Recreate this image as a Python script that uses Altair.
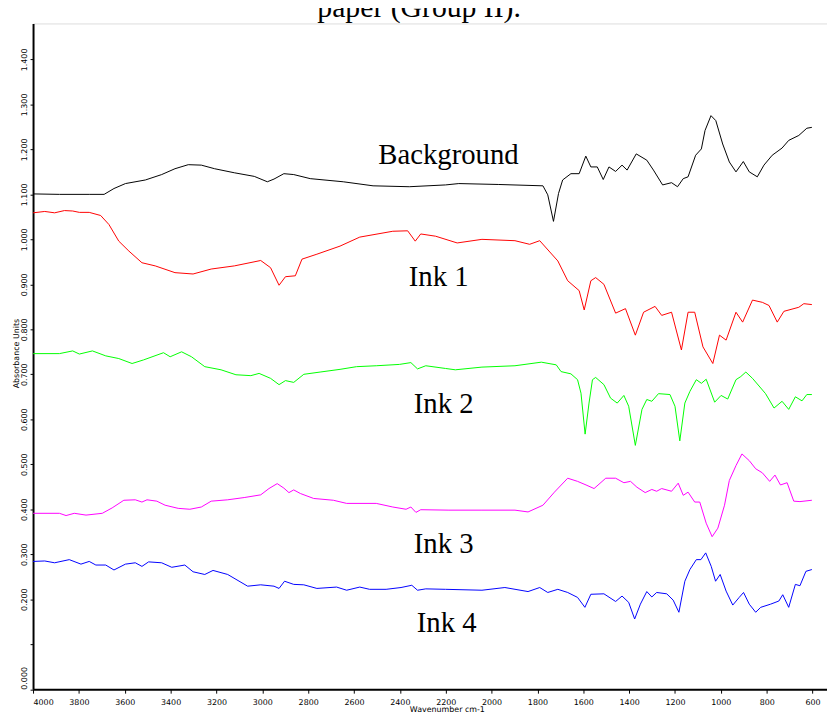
import altair as alt
import pandas as pd

# ---------------- data ----------------
series_names = ["Background", "Ink 1", "Ink 2", "Ink 3", "Ink 4"]
series_colors = ["#000000", "#ff0000", "#00ff00", "#ff00ff", "#0000ff"]

bg_wn = [4000, 3885, 3755, 3690, 3647, 3597, 3510, 3439, 3381, 3323,
         3266, 3208, 3122, 3035, 2978, 2949, 2906, 2863, 2791, 2647,
         2517, 2359, 2201, 2143, 1971, 1776, 1755, 1730, 1708, 1690,
         1654, 1618, 1589, 1567, 1539, 1513, 1488, 1459, 1431, 1409,
         1369, 1323, 1294, 1254, 1215, 1189, 1164, 1143, 1110, 1085,
         1069, 1043, 1022, 992, 963, 934, 902, 876, 841, 812,
         776, 733, 704, 660, 625, 603]
bg_abs = [1.101, 1.100, 1.100, 1.100, 1.113, 1.124, 1.132, 1.144, 1.157, 1.166,
          1.165, 1.157, 1.148, 1.140, 1.128, 1.134, 1.146, 1.144, 1.135, 1.128,
          1.119, 1.117, 1.121, 1.124, 1.122, 1.119, 1.099, 1.040, 1.102, 1.132,
          1.146, 1.146, 1.185, 1.161, 1.161, 1.133, 1.161, 1.151, 1.165, 1.154,
          1.190, 1.176, 1.154, 1.121, 1.126, 1.117, 1.135, 1.139, 1.187, 1.201,
          1.242, 1.275, 1.264, 1.212, 1.172, 1.150, 1.173, 1.150, 1.139, 1.165,
          1.187, 1.203, 1.220, 1.231, 1.247, 1.249]

ink1_wn = [4000, 3949, 3906, 3863, 3827, 3798, 3755, 3705, 3669, 3626,
           3582, 3525, 3467, 3381, 3302, 3223, 3122, 3007, 2964, 2927,
           2899, 2856, 2827, 2762, 2661, 2575, 2431, 2366, 2333, 2309,
           2244, 2150, 2042, 1898, 1834, 1790, 1711, 1668, 1618, 1596,
           1567, 1546, 1510, 1459, 1416, 1373, 1337, 1287, 1258, 1215,
           1172, 1143, 1114, 1078, 1035, 1006, 977, 934, 905, 862,
           819, 790, 754, 725, 660, 638, 603]
ink1_abs = [1.059, 1.062, 1.059, 1.064, 1.063, 1.060, 1.060, 1.053, 1.033, 0.996,
            0.974, 0.948, 0.941, 0.926, 0.923, 0.934, 0.941, 0.953, 0.937, 0.898,
            0.917, 0.919, 0.956, 0.967, 0.985, 1.005, 1.018, 1.019, 0.996, 1.012,
            1.007, 0.992, 1.000, 0.997, 0.989, 0.997, 0.952, 0.908, 0.886, 0.843,
            0.908, 0.915, 0.900, 0.836, 0.846, 0.787, 0.838, 0.851, 0.831, 0.838,
            0.754, 0.838, 0.838, 0.761, 0.724, 0.787, 0.776, 0.838, 0.816, 0.865,
            0.860, 0.853, 0.816, 0.840, 0.849, 0.857, 0.855]

ink2_wn = [4000, 3885, 3827, 3798, 3741, 3683, 3626, 3568, 3518, 3431,
           3402, 3352, 3309, 3251, 3180, 3115, 3050, 3014, 2964, 2927,
           2899, 2863, 2819, 2748, 2661, 2589, 2503, 2402, 2352, 2323,
           2287, 2201, 2158, 2042, 1898, 1783, 1718, 1697, 1654, 1625,
           1610, 1592, 1575, 1560, 1546, 1510, 1481, 1452, 1423, 1402,
           1373, 1344, 1323, 1301, 1272, 1222, 1200, 1179, 1157, 1135,
           1107, 1085, 1064, 1027, 999, 970, 934, 913, 891, 862,
           805, 768, 733, 704, 675, 646, 625, 603]
ink2_abs = [0.746, 0.746, 0.752, 0.745, 0.752, 0.741, 0.735, 0.724, 0.732, 0.748,
            0.739, 0.750, 0.739, 0.717, 0.710, 0.699, 0.697, 0.702, 0.691, 0.677,
            0.686, 0.682, 0.700, 0.705, 0.711, 0.717, 0.719, 0.722, 0.726, 0.712,
            0.719, 0.713, 0.710, 0.716, 0.719, 0.727, 0.721, 0.706, 0.701, 0.688,
            0.658, 0.567, 0.636, 0.688, 0.693, 0.677, 0.647, 0.636, 0.653, 0.629,
            0.542, 0.622, 0.644, 0.640, 0.657, 0.655, 0.629, 0.552, 0.636, 0.662,
            0.688, 0.680, 0.689, 0.638, 0.653, 0.645, 0.688, 0.695, 0.705, 0.691,
            0.657, 0.625, 0.640, 0.622, 0.650, 0.641, 0.655, 0.655]

ink3_wn = [4000, 3885, 3856, 3820, 3769, 3698, 3655, 3604, 3554, 3525,
           3503, 3460, 3424, 3367, 3316, 3266, 3223, 3151, 3079, 3007,
           2971, 2935, 2906, 2884, 2863, 2834, 2776, 2690, 2632, 2503,
           2431, 2373, 2352, 2330, 2309, 2186, 2042, 1898, 1841, 1776,
           1726, 1668, 1625, 1588, 1553, 1502, 1459, 1423, 1394, 1366,
           1330, 1301, 1280, 1258, 1215, 1186, 1164, 1143, 1114, 1092,
           1064, 1038, 1013, 984, 963, 934, 908, 876, 848, 819,
           787, 764, 740, 711, 682, 655, 603]
ink3_abs = [0.391, 0.391, 0.386, 0.391, 0.387, 0.391, 0.403, 0.420, 0.421, 0.416,
            0.421, 0.418, 0.409, 0.402, 0.400, 0.405, 0.418, 0.421, 0.426, 0.432,
            0.446, 0.457, 0.447, 0.437, 0.443, 0.435, 0.424, 0.420, 0.413, 0.413,
            0.405, 0.400, 0.405, 0.393, 0.399, 0.398, 0.398, 0.398, 0.394, 0.409,
            0.438, 0.469, 0.462, 0.454, 0.446, 0.469, 0.469, 0.459, 0.462, 0.449,
            0.437, 0.444, 0.440, 0.446, 0.440, 0.458, 0.431, 0.438, 0.416, 0.416,
            0.369, 0.339, 0.358, 0.409, 0.464, 0.497, 0.523, 0.508, 0.490, 0.481,
            0.462, 0.476, 0.454, 0.459, 0.418, 0.417, 0.420]

ink4_wn = [4000, 3949, 3906, 3842, 3791, 3755, 3726, 3683, 3647, 3597,
           3554, 3525, 3496, 3439, 3395, 3338, 3302, 3251, 3215, 3151,
           3064, 3007, 2949, 2927, 2903, 2863, 2819, 2762, 2676, 2632,
           2575, 2532, 2460, 2395, 2348, 2323, 2287, 2201, 2042, 1942,
           1841, 1790, 1755, 1711, 1668, 1625, 1593, 1567, 1510, 1459,
           1431, 1402, 1376, 1351, 1323, 1301, 1280, 1236, 1208, 1183,
           1157, 1135, 1107, 1087, 1066, 1042, 1023, 1003, 977, 948,
           920, 901, 876, 848, 826, 783, 747, 730, 704, 675,
           655, 629, 603]
ink4_abs = [0.284, 0.285, 0.281, 0.288, 0.278, 0.284, 0.276, 0.276, 0.265, 0.278,
            0.281, 0.273, 0.283, 0.281, 0.271, 0.276, 0.261, 0.255, 0.264, 0.255,
            0.229, 0.232, 0.229, 0.224, 0.240, 0.233, 0.232, 0.224, 0.227, 0.220,
            0.227, 0.222, 0.222, 0.226, 0.231, 0.220, 0.223, 0.222, 0.220, 0.226,
            0.217, 0.226, 0.215, 0.222, 0.215, 0.204, 0.182, 0.211, 0.212, 0.195,
            0.207, 0.193, 0.156, 0.189, 0.217, 0.205, 0.215, 0.212, 0.198, 0.171,
            0.240, 0.266, 0.288, 0.288, 0.303, 0.273, 0.240, 0.255, 0.218, 0.187,
            0.204, 0.215, 0.189, 0.171, 0.182, 0.189, 0.196, 0.210, 0.182, 0.233,
            0.230, 0.262, 0.266]

# annotation labels (text, wavenumber, absorbance of baseline)
label_text = ["Background", "Ink 1", "Ink 2", "Ink 3", "Ink 4"]
label_wn = [2188, 2231, 2209, 2209, 2196]
label_abs = [1.1675, 0.897, 0.613, 0.303, 0.127]

x_ticks = list(range(4000, 599, -200))
y_ticks = [round(i * 0.1, 1) for i in range(0, 15)]

title_text = ["paper (Group II)."]

# ---------------- build table ----------------
frames = []
for name, wn, ab in zip(series_names,
                        [bg_wn, ink1_wn, ink2_wn, ink3_wn, ink4_wn],
                        [bg_abs, ink1_abs, ink2_abs, ink3_abs, ink4_abs]):
    frames.append(pd.DataFrame({"series": name, "wn": wn, "abs": ab,
                                "order": list(range(len(wn)))}))
df = pd.concat(frames, ignore_index=True)
labels_df = pd.DataFrame({"text": label_text, "wn": label_wn, "abs": label_abs})
title_df = pd.DataFrame({"t": title_text})

AXIS_FONT = "DejaVu Sans"

x_scale = alt.Scale(domain=[4000, 537], nice=False, zero=False)
y_scale = alt.Scale(domain=[0, 1.48], nice=False, zero=False)

x_axis = alt.Axis(
    values=x_ticks, format="d", title="Wavenumber cm-1",
    labelFont=AXIS_FONT, labelFontSize=8, labelColor="black",
    labelBaseline="alphabetic", labelPadding=11.5, labelFlush=True,
    tickSize=4, tickColor="black", tickWidth=1,
    domainColor="black", domainWidth=2, grid=False,
    titleFont=AXIS_FONT, titleFontSize=8, titleFontWeight="normal",
    titleColor="black", titleBaseline="alphabetic",
    titleX=418, titleY=23, titleAnchor="middle",
)
y_axis = alt.Axis(
    values=y_ticks, format=".3f",
    labelExpr="abs(datum.value - 0.1) < 0.001 ? '' : datum.label",
    title="Absorbance Units",
    labelFont=AXIS_FONT, labelFontSize=8, labelColor="black",
    labelAngle=270,
    labelAlign={"condition": {"test": "datum.value == 0", "value": "left"},
                "value": "center"},
    labelBaseline="alphabetic", labelPadding=3.5, labelFlush=False,
    labelOverlap=False,
    tickSize=3, tickColor="black", tickWidth=1,
    domainColor="black", domainWidth=2, grid=False,
    titleFont=AXIS_FONT, titleFontSize=8, titleFontWeight="normal",
    titleColor="black", titleAngle=270, titleBaseline="alphabetic",
    titleAlign="center", titleX=-15, titleY=333,
)

lines = alt.Chart(df).mark_line(strokeWidth=1, clip=True).encode(
    x=alt.X("wn:Q", scale=x_scale, axis=x_axis),
    y=alt.Y("abs:Q", scale=y_scale, axis=y_axis),
    color=alt.Color("series:N",
                    scale=alt.Scale(domain=series_names, range=series_colors),
                    legend=None),
    order="order:Q",
)

texts = alt.Chart(labels_df).mark_text(
    font="Liberation Serif", fontSize=29, align="center",
    baseline="alphabetic", color="black",
).encode(
    x=alt.X("wn:Q", scale=x_scale),
    y=alt.Y("abs:Q", scale=y_scale),
    text="text:N",
)

# figure caption, cut off by the top edge as in the reference
caption = alt.Chart(title_df).mark_text(
    font="Liberation Serif", fontSize=30, align="center",
    baseline="alphabetic", color="black",
).encode(
    x=alt.value(390),
    y=alt.value(-7),
    text="t:N",
)

chart = alt.layer(lines, texts, caption).properties(
    width=802, height=672.5,
    autosize=alt.AutoSizeParams(type="none"),
    padding={"left": 25.3, "top": 12, "right": 0, "bottom": 24},
).configure_view(stroke=None).configure(background="white")

chart.save("out.html", embed_options={"renderer": "svg", "actions": False})
